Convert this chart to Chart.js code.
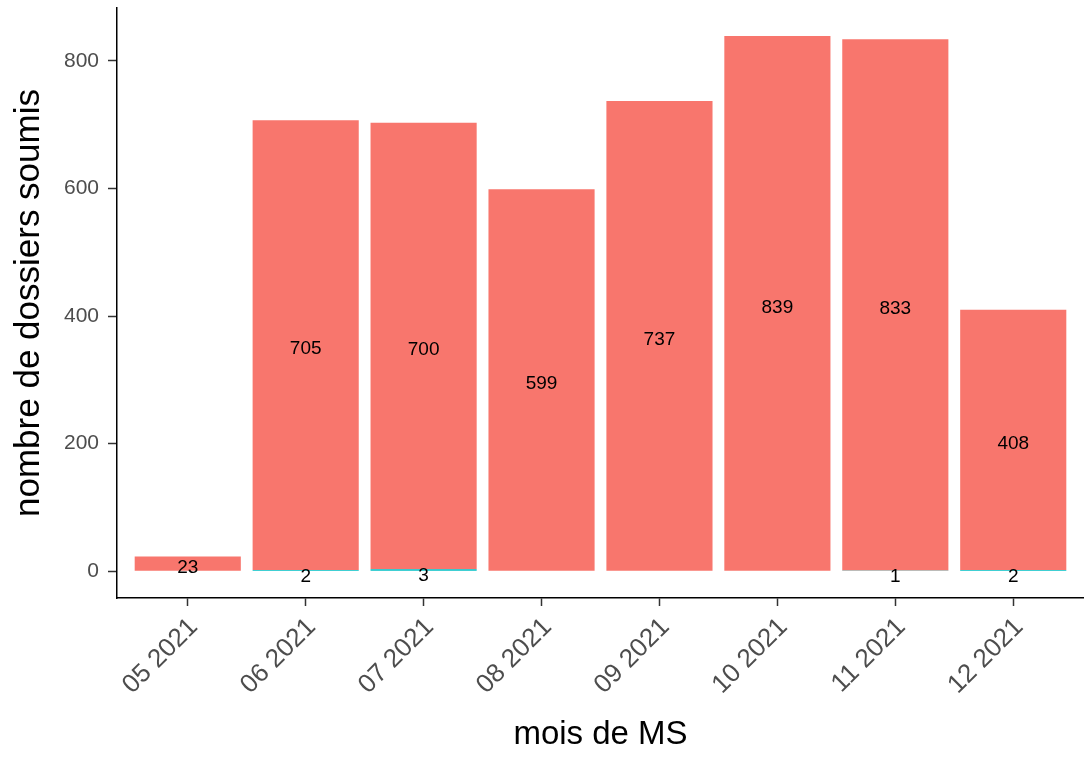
<!DOCTYPE html>
<html>
<head>
<meta charset="utf-8">
<script src="https://cdn.jsdelivr.net/npm/chart.js@4.4.1/dist/chart.umd.min.js"></script>
<style>
  html, body { margin: 0; padding: 0; background: #fff; }
  #wrap { width: 1084px; height: 757px; }
</style>
</head>
<body>
<div id="wrap"><canvas id="chart"></canvas></div>
<script>
'use strict';

// mois (axe x)
const months = ['05 2021', '06 2021', '07 2021', '08 2021', '09 2021', '10 2021', '11 2021', '12 2021'];
// série du bas (turquoise), null = absente
const smallSeries = [null, 2, 3, null, null, null, 1, 2];
// série principale (rouge)
const mainSeries = [23, 705, 700, 599, 737, 839, 833, 408];
const yTicks = [0, 200, 400, 600, 800];

const FONT = '"Liberation Sans", Arial, sans-serif';

const toPoints = vals => vals.map((v, i) => ({ x: i + 1, y: v }));

const barLabels = {
  id: 'barLabels',
  afterDatasetsDraw(chart) {
    const ctx = chart.ctx;
    ctx.save();
    ctx.font = `19px ${FONT}`;
    ctx.fillStyle = '#000';
    ctx.textAlign = 'center';
    ctx.textBaseline = 'middle';
    chart.data.datasets.forEach((ds, di) => {
      const meta = chart.getDatasetMeta(di);
      meta.data.forEach((bar, i) => {
        const v = ds.data[i].y;
        if (v === null || v === undefined) return;
        ctx.fillText(String(v), bar.x, (bar.y + bar.base) / 2 + (di === 0 ? 6 : 4));
      });
    });
    ctx.restore();
  },
};

new Chart(document.getElementById('chart'), {
  type: 'bar',
  data: {
    datasets: [
      { label: 'b', data: toPoints(smallSeries), backgroundColor: '#00BFC4' },
      { label: 'a', data: toPoints(mainSeries), backgroundColor: '#F8766D' },
    ],
  },
  options: {
    responsive: true,
    maintainAspectRatio: false,
    animation: false,
    layout: { padding: { top: 8, right: 0, left: 0, bottom: 0 } },
    datasets: { bar: { categoryPercentage: 1, barPercentage: 0.9 } },
    plugins: { legend: { display: false }, tooltip: { enabled: false } },
    scales: {
      x: {
        type: 'linear',
        stacked: true,
        min: 0.4,
        max: 8.6,
        offset: false,
        afterBuildTicks: s => { s.ticks = months.map((m, i) => ({ value: i + 1 })); },
        afterFit: s => { s.height = 159; s.paddingLeft = 0; s.paddingRight = 0; },
        border: { display: true, color: '#000', width: 1.5 },
        grid: { display: true, offset: false, drawOnChartArea: false, drawTicks: true, tickLength: 8, tickColor: '#333', tickWidth: 1.5 },
        ticks: {
          autoSkip: false,
          minRotation: 45,
          maxRotation: 45,
          padding: 6,
          labelOffset: 6,
          color: '#4D4D4D',
          font: { family: FONT, size: 26 },
          callback: (v, i) => months[i],
        },
        title: {
          display: true,
          text: 'mois de MS',
          color: '#000',
          font: { family: FONT, size: 33 },
          padding: { top: 0, bottom: 2 },
        },
      },
      y: {
        stacked: true,
        min: -42,
        max: 883,
        afterBuildTicks: s => { s.ticks = yTicks.map(v => ({ value: v })); },
        afterFit: s => { s.width = 117; s.paddingTop = 0; s.paddingBottom = 0; },
        border: { display: true, color: '#000', width: 1.5 },
        grid: { display: true, drawOnChartArea: false, drawTicks: true, tickLength: 9, tickColor: '#333', tickWidth: 1.5 },
        ticks: {
          padding: 9,
          color: '#4D4D4D',
          font: { family: FONT, size: 21 },
        },
        title: {
          display: true,
          text: 'nombre de dossiers soumis',
          color: '#000',
          font: { family: FONT, size: 35 },
          padding: { top: 8, bottom: 0 },
        },
      },
    },
  },
  plugins: [barLabels],
});
</script>
</body>
</html>
